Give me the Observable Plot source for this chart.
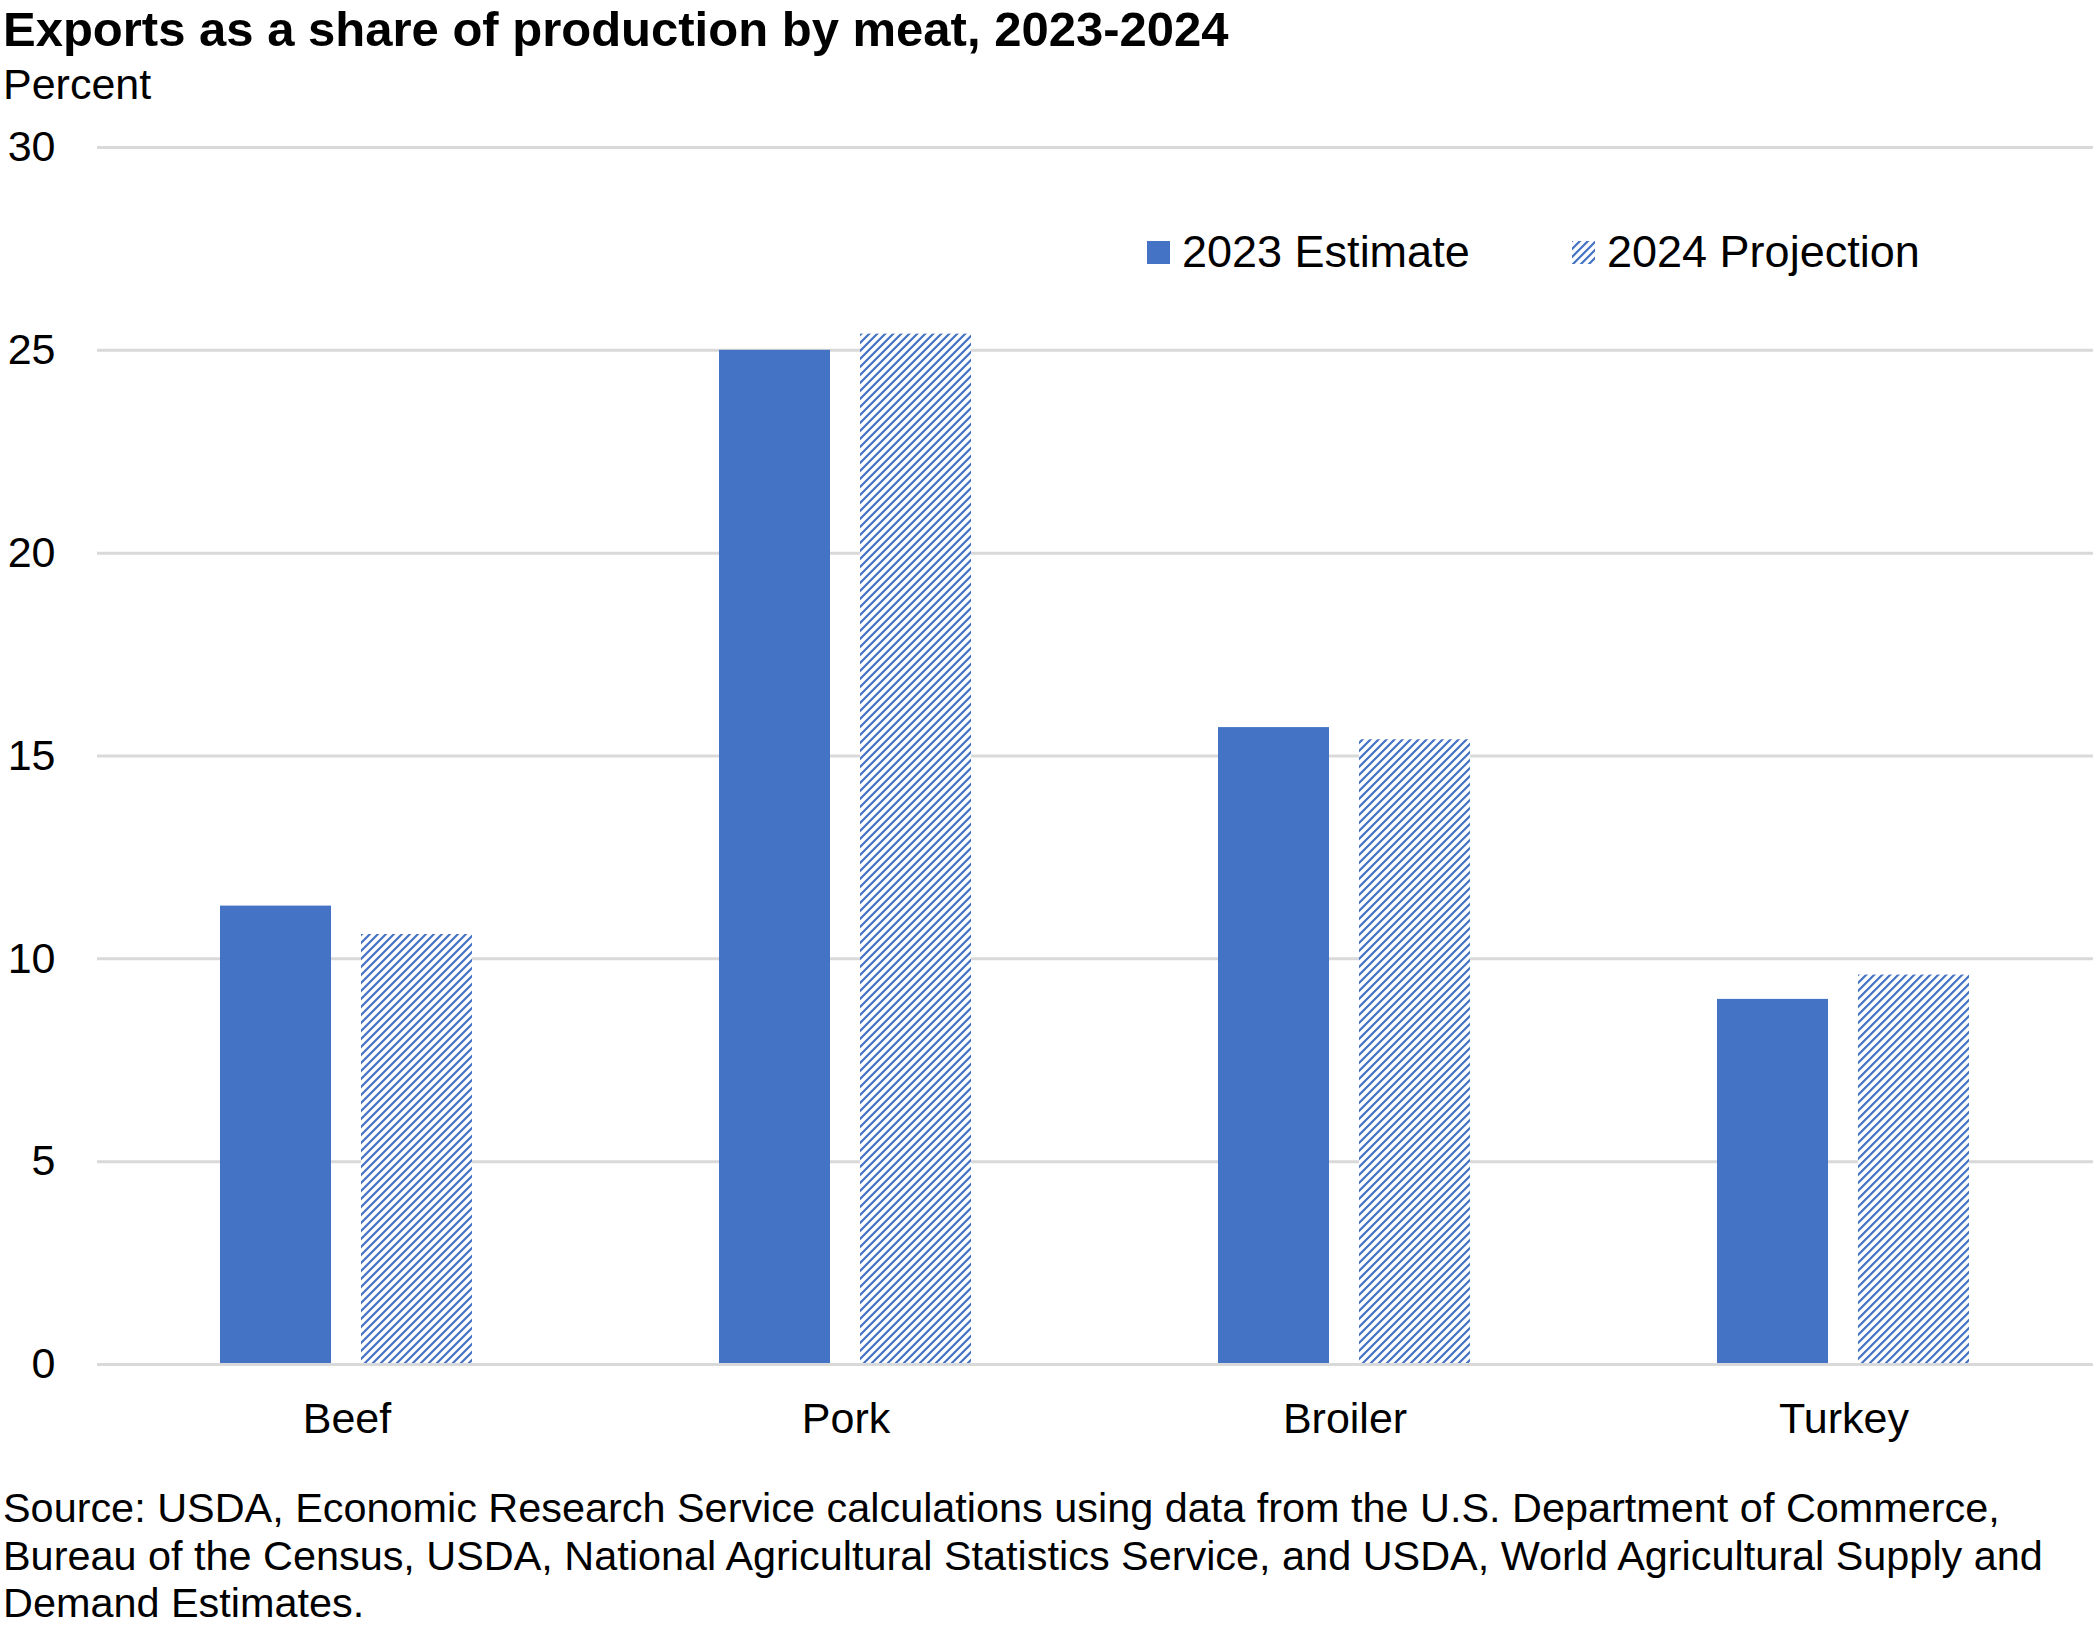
<!DOCTYPE html>
<html>
<head>
<meta charset="utf-8">
<script src="https://cdn.jsdelivr.net/npm/d3@7"></script>
<script src="https://cdn.jsdelivr.net/npm/@observablehq/plot@0.6"></script>
<style>
  html, body { margin: 0; padding: 0; background: #fff; overflow: hidden; }
  body { font-family: "Liberation Sans", Arial, sans-serif; color: #000; width: 2094px; }
  #title { font-weight: bold; font-size: 49px; line-height: 58px; height: 58px; padding-left: 3px; white-space: nowrap; }
  #subtitle { font-size: 43px; line-height: 52px; height: 52px; padding-left: 3px; }
  #chart { position: relative; height: 1344px; }
  .item { position: absolute; top: 117px; display: flex; align-items: center; font-size: 45px; line-height: 50px; white-space: nowrap; }
  .sw { width: 23px; height: 23px; display: inline-block; margin-right: 12px; }
  #caption { margin-top: 31px; font-size: 41.4px; line-height: 47.5px; padding-left: 3px; white-space: nowrap; }
</style>
</head>
<body>
<svg width="0" height="0" style="position:absolute">
  <defs>
    <pattern id="hatch" patternUnits="userSpaceOnUse" width="8" height="8">
      <rect width="8" height="8" fill="#ffffff"></rect>
      <path d="M-2,2 l4,-4 M0,8 l8,-8 M6,10 l4,-4" stroke="#4472C4" stroke-width="2.2"></path>
    </pattern>
  </defs>
</svg>
<div id="title">Exports as a share of production by meat, 2023-2024</div>
<div id="subtitle">Percent</div>
<div id="chart"></div>
<div id="caption">Source: USDA, Economic Research Service calculations using data from the U.S. Department of Commerce,<br>Bureau of the Census, USDA, National Agricultural Statistics Service, and USDA, World Agricultural Supply and<br>Demand Estimates.</div>
<script>
const categories = ["Beef", "Pork", "Broiler", "Turkey"];
const seriesNames = ["2023 Estimate", "2024 Projection"];
const estimate2023 = [11.3, 25.0, 15.7, 9.0];
const projection2024 = [10.6, 25.4, 15.4, 9.6];
const yTicks = [0, 5, 10, 15, 20, 25, 30];

const BLUE = "#4472C4";
const GRID = "#d9d9d9";

const rows = [];
categories.forEach((c, i) => {
  rows.push({category: c, series: seriesNames[0], value: estimate2023[i]});
  rows.push({category: c, series: seriesNames[1], value: projection2024[i]});
});

const chart = Plot.plot({
  width: 2094,
  height: 1344,
  marginTop: 37,
  marginBottom: 90,
  marginLeft: 95,
  marginRight: 0,
  style: {fontFamily: '"Liberation Sans", Arial, sans-serif', fontSize: "43px", color: "#000", background: "transparent"},
  fx: {domain: categories, padding: 0, label: null},
  x: {domain: seriesNames, paddingInner: 0.211, paddingOuter: 0.866, axis: null},
  y: {domain: [0, 30], label: null},
  marks: [
    Plot.gridY(yTicks.filter(t => t > 0), {stroke: GRID, strokeOpacity: 1, strokeWidth: 3}),
    Plot.barY(rows.filter(d => d.series === seriesNames[0]), {fx: "category", x: "series", y: "value", fill: BLUE}),
    Plot.barY(rows.filter(d => d.series === seriesNames[1]), {fx: "category", x: "series", y: "value", fill: "url(#hatch)"}),
    Plot.ruleY([0], {stroke: GRID, strokeWidth: 3}),
    Plot.axisY({ticks: yTicks, tickSize: 0, tickPadding: 42, fontSize: 43, label: null, tickFormat: d => String(d)}),
    Plot.axisFx({anchor: "bottom", tickSize: 0, tickPadding: 38, fontSize: 43, label: null})
  ]
});
const host = document.getElementById("chart");
host.appendChild(chart);

const item1 = document.createElement("div");
item1.className = "item";
item1.style.left = "1147px";
item1.innerHTML = '<span class="sw" style="background:' + BLUE + '"></span><span>' + seriesNames[0] + '</span>';
host.appendChild(item1);

const item2 = document.createElement("div");
item2.className = "item";
item2.style.left = "1572px";
item2.innerHTML = '<svg class="sw" width="23" height="23"><rect width="23" height="23" fill="url(#hatch)"></rect></svg><span>' + seriesNames[1] + '</span>';
host.appendChild(item2);
</script>
</body>
</html>
